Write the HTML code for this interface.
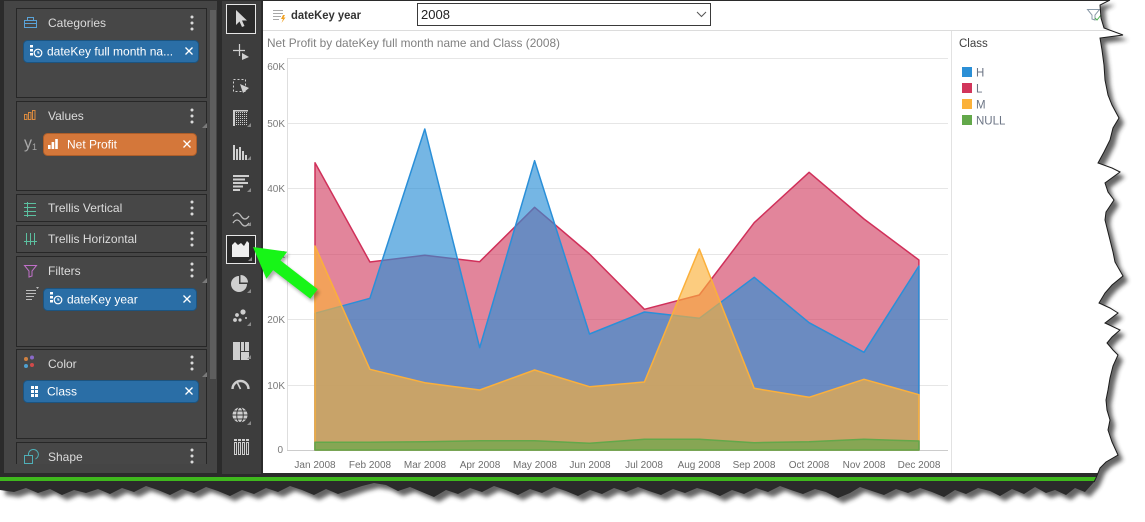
<!DOCTYPE html>
<html><head><meta charset="utf-8">
<style>
html,body{margin:0;padding:0;background:#fff;width:1145px;height:522px;overflow:hidden}
svg{display:block}
text{font-family:"Liberation Sans",Arial,sans-serif}
</style></head><body>
<svg width="1145" height="522" viewBox="0 0 1145 522" xmlns="http://www.w3.org/2000/svg">
<defs>
<clipPath id="paper"><path d="M0,0 L1110,0 L1100,5 L1101,18 L1104,28 L1123,35 L1100,38 L1102,50 L1104,65 L1105,80 L1108,95 L1112,105 L1119,118 L1113,128 L1110,140 L1104,152 L1098,163 L1112,168 L1120,172 L1105,183 L1108,192 L1114,200 L1106,212 L1105,220 L1108,232 L1110,240 L1113,252 L1115,262 L1123,276 L1112,285 L1105,293 L1099,303 L1110,308 L1118,313 L1105,323 L1120,330 L1112,337 L1107,343 L1113,350 L1118,355 L1113,366 L1110,378 L1108,390 L1106,400 L1107,410 L1110,420 L1108,430 L1112,442 L1118,455 L1106,462 L1100,468 L1096,478 L1094,482 L1085,492 L1075,488 L1066,495 L1055,490 L1046,493 L1035,487 L1024,494 L1012,489 L1000,496 L990,491 L978,488 L966,494 L955,490 L944,497 L932,492 L920,488 L908,493 L896,489 L884,495 L872,491 L860,487 L850,493 L838,498 L826,492 L815,489 L803,494 L791,490 L780,486 L768,492 L756,488 L744,494 L732,490 L720,496 L708,491 L697,488 L685,493 L673,489 L661,495 L649,491 L638,487 L626,492 L614,488 L602,494 L590,490 L578,496 L566,491 L554,487 L542,493 L530,489 L518,495 L506,490 L494,486 L482,492 L470,488 L458,494 L446,490 L434,497 L422,492 L410,487 L398,491 L386,485 L374,483 L362,486 L350,490 L338,494 L326,489 L314,495 L302,490 L290,486 L278,492 L266,488 L254,494 L242,490 L230,496 L218,491 L206,487 L194,493 L182,489 L170,495 L158,490 L146,486 L134,492 L122,488 L110,494 L98,489 L86,493 L74,490 L62,495 L50,489 L38,493 L26,488 L14,492 L0,490 Z"/></clipPath>
<filter id="sh" x="-5%" y="-5%" width="110%" height="110%"><feGaussianBlur stdDeviation="2.2"/></filter>
<filter id="ash" x="-20%" y="-20%" width="140%" height="140%"><feGaussianBlur stdDeviation="1.5"/></filter>
<pattern id="dots" width="2" height="2" patternUnits="userSpaceOnUse"><rect width="1" height="1" fill="#cfcfcf"/></pattern>
</defs>

<rect width="1145" height="522" fill="#fff"/>
<path transform="translate(5,5)" fill="#303030" opacity="0.75" filter="url(#sh)" d="M0,0 L1110,0 L1100,5 L1101,18 L1104,28 L1123,35 L1100,38 L1102,50 L1104,65 L1105,80 L1108,95 L1112,105 L1119,118 L1113,128 L1110,140 L1104,152 L1098,163 L1112,168 L1120,172 L1105,183 L1108,192 L1114,200 L1106,212 L1105,220 L1108,232 L1110,240 L1113,252 L1115,262 L1123,276 L1112,285 L1105,293 L1099,303 L1110,308 L1118,313 L1105,323 L1120,330 L1112,337 L1107,343 L1113,350 L1118,355 L1113,366 L1110,378 L1108,390 L1106,400 L1107,410 L1110,420 L1108,430 L1112,442 L1118,455 L1106,462 L1100,468 L1096,478 L1094,482 L1085,492 L1075,488 L1066,495 L1055,490 L1046,493 L1035,487 L1024,494 L1012,489 L1000,496 L990,491 L978,488 L966,494 L955,490 L944,497 L932,492 L920,488 L908,493 L896,489 L884,495 L872,491 L860,487 L850,493 L838,498 L826,492 L815,489 L803,494 L791,490 L780,486 L768,492 L756,488 L744,494 L732,490 L720,496 L708,491 L697,488 L685,493 L673,489 L661,495 L649,491 L638,487 L626,492 L614,488 L602,494 L590,490 L578,496 L566,491 L554,487 L542,493 L530,489 L518,495 L506,490 L494,486 L482,492 L470,488 L458,494 L446,490 L434,497 L422,492 L410,487 L398,491 L386,485 L374,483 L362,486 L350,490 L338,494 L326,489 L314,495 L302,490 L290,486 L278,492 L266,488 L254,494 L242,490 L230,496 L218,491 L206,487 L194,493 L182,489 L170,495 L158,490 L146,486 L134,492 L122,488 L110,494 L98,489 L86,493 L74,490 L62,495 L50,489 L38,493 L26,488 L14,492 L0,490 Z"/>

<g clip-path="url(#paper)">
<rect width="1145" height="522" fill="#2b2b2b"/>
<rect x="4" y="1" width="213" height="472" fill="#454545"/>
<rect x="210" y="10" width="6" height="369" fill="#5e5e5e"/>
<rect x="222" y="1" width="39" height="473" fill="#3d3d3d"/>
<rect x="263" y="1" width="882" height="472" fill="#fff"/>
<rect x="0" y="477" width="1145" height="4" fill="#3fb81d"/>

<g fill="#474747" stroke="#272727" stroke-width="1">
<rect x="16.5" y="8.5" width="190" height="89"/>
<rect x="16.5" y="101.5" width="190" height="89"/>
<rect x="16.5" y="194.5" width="190" height="27"/>
<rect x="16.5" y="225.5" width="190" height="27"/>
<rect x="16.5" y="256.5" width="190" height="90"/>
<rect x="16.5" y="349.5" width="190" height="89"/>
<rect x="16.5" y="442.5" width="190" height="26"/>
</g>
<rect x="4" y="464" width="213" height="9" fill="#454545"/>

<g font-size="12" fill="#dcdcdc">
<text x="48" y="27">Categories</text>
<text x="48" y="120">Values</text>
<text x="48" y="212">Trellis Vertical</text>
<text x="48" y="243">Trellis Horizontal</text>
<text x="48" y="275">Filters</text>
<text x="48" y="368">Color</text>
<text x="48" y="461">Shape</text>
</g>
<g fill="#dadada">
<circle cx="192" cy="17" r="1.5"/><circle cx="192" cy="23" r="1.5"/><circle cx="192" cy="29" r="1.5"/>
<circle cx="192" cy="110" r="1.5"/><circle cx="192" cy="116" r="1.5"/><circle cx="192" cy="122" r="1.5"/>
<circle cx="192" cy="202" r="1.5"/><circle cx="192" cy="208" r="1.5"/><circle cx="192" cy="214" r="1.5"/>
<circle cx="192" cy="233" r="1.5"/><circle cx="192" cy="239" r="1.5"/><circle cx="192" cy="245" r="1.5"/>
<circle cx="192" cy="264" r="1.5"/><circle cx="192" cy="270" r="1.5"/><circle cx="192" cy="276" r="1.5"/>
<circle cx="192" cy="357" r="1.5"/><circle cx="192" cy="363" r="1.5"/><circle cx="192" cy="369" r="1.5"/>
<circle cx="192" cy="450" r="1.5"/><circle cx="192" cy="456" r="1.5"/><circle cx="192" cy="462" r="1.5"/>
</g>
<g fill="#7a7a7a">
<path d="M207,123 L207,128 L202,128 Z"/>
<path d="M207,278 L207,283 L202,283 Z"/>
<path d="M207,372 L207,377 L202,377 Z"/>
</g>

<g fill="none" stroke="#5aa3d8" stroke-width="1">
<rect x="24.5" y="20.5" width="12" height="7"/><path d="M27.5,20.5 V17.5 H33.5 V20.5 M24.5,23.5 H36.5"/>
</g>
<g fill="none" stroke="#d98a3f" stroke-width="1">
<rect x="24.5" y="114.5" width="2.5" height="5"/><rect x="28.5" y="112.5" width="2.5" height="7"/><rect x="32.5" y="110.5" width="2.5" height="9"/>
</g>
<text x="24" y="148" font-size="16" fill="#a8a8a8">y</text><text x="32" y="150" font-size="9" fill="#a8a8a8">1</text>
<g stroke="#5cc0a0" stroke-width="1" fill="none">
<path d="M24,203.5 H36 M24,207.5 H36 M24,211.5 H36 M24,215.5 H36 M27.5,202 V217"/>
<path d="M26.5,233 V245 M30.5,233 V245 M34.5,233 V245 M24,241.5 H37"/>
</g>
<path d="M24.5,265.5 H36.5 L32,271 V276 L29,277 V271 Z" fill="none" stroke="#c070c8" stroke-width="1"/>
<circle cx="26" cy="359" r="2" fill="#d08040"/><circle cx="32" cy="357.5" r="2" fill="#8a6ac8"/><circle cx="26" cy="366" r="2" fill="#4fa0d0"/><circle cx="32" cy="365" r="2" fill="#d04a4a"/>
<g fill="none" stroke="#4fb0b8" stroke-width="1"><rect x="24.5" y="455.5" width="8" height="8"/><path d="M28.5,455.5 A5,5 0 1,1 35.5,459"/></g>
<g stroke="#bdbdbd" stroke-width="1"><path d="M26,290.5 H36 M26,293.5 H36 M26,296.5 H34 M26,299.5 H32"/></g><path d="M36,287 L39,287 L37.5,289 Z" fill="#bdbdbd"/>

<rect x="23.5" y="40.5" width="175" height="22" rx="4" fill="#2a6ea6" stroke="#1c5480"/>
<rect x="43.5" y="133.5" width="153" height="22" rx="4" fill="#d4773a" stroke="#ad5e2a"/>
<rect x="43.5" y="288.5" width="153" height="22" rx="4" fill="#2a6ea6" stroke="#1c5480"/>
<rect x="23.5" y="380.5" width="175" height="22" rx="4" fill="#2a6ea6" stroke="#1c5480"/>
<g font-size="12" fill="#ffffff">
<text x="47" y="55.5">dateKey full month na...</text>
<text x="67" y="148.5">Net Profit</text>
<text x="67" y="303.5">dateKey year</text>
<text x="47" y="395.5">Class</text>
</g>
<g stroke="#fff" stroke-width="1.3">
<path d="M185.5,47.5 L192.5,54.5 M192.5,47.5 L185.5,54.5"/>
<path d="M183.5,140.5 L190.5,147.5 M190.5,140.5 L183.5,147.5"/>
<path d="M183.5,295.5 L190.5,302.5 M190.5,295.5 L183.5,302.5"/>
<path d="M185.5,387.5 L192.5,394.5 M192.5,387.5 L185.5,394.5"/>
</g>
<g fill="#fff"><rect x="30" y="45" width="3" height="2.5"/><rect x="30" y="49" width="3" height="2.5"/><rect x="30" y="53" width="3" height="2.5"/></g>
<circle cx="38" cy="53" r="3.8" fill="none" stroke="#fff" stroke-width="1.2"/><path d="M38,51 V53 H39.5" stroke="#fff" fill="none"/>
<g fill="#fff"><rect x="50" y="292" width="3" height="2.5"/><rect x="50" y="296" width="3" height="2.5"/><rect x="50" y="300" width="3" height="2.5"/></g>
<circle cx="58" cy="300" r="3.8" fill="none" stroke="#fff" stroke-width="1.2"/><path d="M58,298 V300 H59.5" stroke="#fff" fill="none"/>
<g fill="#fff"><rect x="48" y="145" width="2.6" height="4"/><rect x="51.6" y="142" width="2.6" height="7"/><rect x="55.2" y="139" width="2.6" height="10"/></g>
<g fill="#fff"><rect x="31" y="386" width="3" height="3"/><rect x="35" y="386" width="3" height="3"/><rect x="31" y="390" width="3" height="3"/><rect x="35" y="390" width="3" height="3"/><rect x="31" y="394" width="3" height="3"/><rect x="35" y="394" width="3" height="3"/></g>

<rect x="226.5" y="4.5" width="29" height="29" fill="#2a2a2a" stroke="#e6e6e6"/>
<path d="M236,10 L236,25 L239.5,21.5 L242,27 L244.5,26 L242,20.5 L247,20.5 Z" fill="#d6d6d6"/>
<path d="M233,50.5 H245 M239.5,44 V56" stroke="#d0d0d0" stroke-width="1.2"/>
<path d="M242,53 L249,57 L242,60 Z" fill="#d0d0d0"/>
<rect x="233.5" y="79.5" width="12" height="12" fill="none" stroke="#d0d0d0" stroke-dasharray="2,2"/>
<path d="M240,84 L249,88 L243,93 Z" fill="#d0d0d0"/>
<rect x="233" y="110" width="15" height="16" fill="url(#dots)"/><rect x="233" y="110" width="15" height="1.5" fill="#cfcfcf"/><rect x="233" y="110" width="2" height="16" fill="#cfcfcf"/>
<g fill="#cfcfcf"><rect x="233" y="145" width="2" height="15"/><rect x="236" y="149" width="2" height="11"/><rect x="239" y="147" width="2" height="13"/><rect x="242" y="151" width="2" height="9"/><rect x="245" y="155" width="2" height="5"/></g>
<g fill="#cfcfcf"><rect x="233" y="175" width="16" height="2"/><rect x="233" y="178.5" width="12" height="2"/><rect x="233" y="182" width="15" height="2"/><rect x="233" y="185.5" width="10" height="2"/><rect x="233" y="189" width="7" height="2"/></g>
<path d="M233,216 q4,-6 8,0 t8,0 M233,223 q4,-6 8,0 t8,0" fill="none" stroke="#bdbdbd" stroke-width="1.3"/>
<rect x="226.5" y="235.5" width="29" height="28" fill="#2a2a2a" stroke="#e6e6e6"/>
<path d="M232,245 L235,242 L238,245 L241,243 L244,246 L247,241 L249,243 L249,257 L232,257 Z" fill="#eeeeee"/>
<path d="M239,284 L239,276 A8,8 0 1,0 247,284 Z" fill="#cfcfcf"/><path d="M240.5,282.5 L240.5,275 A7.5,7.5 0 0,1 248,282.5 Z" fill="#cfcfcf"/>
<g fill="#cfcfcf"><circle cx="243" cy="312" r="2.6"/><circle cx="237" cy="315" r="1.9"/><circle cx="235" cy="320" r="1.9"/><circle cx="240" cy="320" r="1.6"/><circle cx="246" cy="318" r="1"/></g>
<g fill="#cfcfcf"><rect x="233" y="342" width="7" height="18"/><rect x="241" y="342" width="3" height="9"/><rect x="245" y="342" width="4" height="9"/><rect x="241" y="352" width="8" height="8"/></g>
<path d="M232.5,389 A8,8 0 0,1 248.5,389" fill="none" stroke="#cfcfcf" stroke-width="2.4"/><path d="M240.5,389 L237,382" stroke="#cfcfcf" stroke-width="1.6"/>
<circle cx="240" cy="415" r="7.5" fill="#cfcfcf"/><g stroke="#3d3d3d" fill="none" stroke-width="1"><ellipse cx="240" cy="415" rx="3.3" ry="7.5"/><path d="M232.5,415 H247.5 M233.5,411 H246.5 M233.5,419 H246.5"/></g>
<g fill="none" stroke="#cfcfcf" stroke-width="1"><rect x="234.5" y="442.5" width="2" height="12"/><rect x="238.5" y="442.5" width="2" height="12"/><rect x="242.5" y="442.5" width="2" height="12"/><rect x="246.5" y="442.5" width="2" height="12"/></g>
<g fill="#cfcfcf"><rect x="234" y="439" width="3" height="2"/><rect x="238" y="439" width="3" height="2"/><rect x="242" y="439" width="3" height="2"/><rect x="246" y="439" width="3" height="2"/></g>
<g fill="#8a8a8a">
<path d="M251,123 L251,127 L247,127 Z"/><path d="M251,156 L251,160 L247,160 Z"/><path d="M251,188 L251,192 L247,192 Z"/><path d="M251,222 L251,226 L247,226 Z"/><path d="M252,257 L252,261 L248,261 Z"/><path d="M251,289 L251,293 L247,293 Z"/><path d="M251,322 L251,326 L247,326 Z"/><path d="M251,355 L251,359 L247,359 Z"/><path d="M251,421 L251,425 L247,425 Z"/>
</g>

<g stroke="#a8a8a8" stroke-width="1"><path d="M273,10.5 H283 M273,13.5 H283 M273,16.5 H281 M273,19.5 H279"/></g>
<path d="M283,15 L281,19 L283,19 L281.5,23 L285.5,17.5 L283.5,17.5 L285,15 Z" fill="#f0a020"/>
<text x="291" y="19" font-size="12" font-weight="bold" fill="#333" textLength="70" lengthAdjust="spacingAndGlyphs">dateKey year</text>
<rect x="417.5" y="3.5" width="293" height="22" fill="#fff" stroke="#3a3a3a"/>
<text x="421" y="19" font-size="13" fill="#222">2008</text>
<path d="M697,12 L701.5,16.5 L706,12" fill="none" stroke="#555" stroke-width="1"/>
<path d="M263,30.5 H1145" stroke="#dcdcdc"/>
<path d="M1087.5,9.5 H1099.5 L1095,15 V20 L1092,19 V15 Z" fill="none" stroke="#8a9aa8" stroke-width="1"/>
<path d="M1095,18 L1097,20 L1101,15" fill="none" stroke="#4caf50" stroke-width="1"/>

<text x="267" y="47" font-size="12" fill="#808080" textLength="293" lengthAdjust="spacingAndGlyphs">Net Profit by dateKey full month name and Class (2008)</text>

<path d="M951.5,31 V473" stroke="#e2e2e2"/>

<g stroke="#e6e6e6" stroke-width="1">
<path d="M287,58.5 H948 M287,123.5 H948 M287,188.5 H948 M287,254.5 H948 M287,319.5 H948 M287,385.5 H948"/>
</g>
<path d="M287.5,58 V450" stroke="#dedede"/>
<path d="M287,450.5 H948" stroke="#cccccc"/>

<g font-size="10" fill="#7a7a7a" text-anchor="end">
<text x="285" y="70">60K</text>
<text x="285" y="127">50K</text>
<text x="285" y="192">40K</text>
<text x="285" y="258">30K</text>
<text x="285" y="323">20K</text>
<text x="285" y="389">10K</text>
<text x="283" y="453">0</text>
</g>
<g font-size="10" fill="#6e6e6e" text-anchor="middle">
<text x="315" y="468">Jan 2008</text>
<text x="370" y="468">Feb 2008</text>
<text x="425" y="468">Mar 2008</text>
<text x="480" y="468">Apr 2008</text>
<text x="535" y="468">May 2008</text>
<text x="590" y="468">Jun 2008</text>
<text x="644" y="468">Jul 2008</text>
<text x="699" y="468">Aug 2008</text>
<text x="754" y="468">Sep 2008</text>
<text x="809" y="468">Oct 2008</text>
<text x="864" y="468">Nov 2008</text>
<text x="919" y="468">Dec 2008</text>
</g>

<g stroke-width="1.5" stroke-linejoin="round">
<path d="M315,450 L315,162.7 L369.9,262 L424.8,255.3 L479.7,261.7 L534.6,207.3 L589.5,254 L644.4,309.3 L699.3,295 L754.2,222.7 L809.1,172.3 L864,219 L918.9,260 L918.9,450 Z" fill="#d13a5e" fill-opacity="0.62" stroke="#d0305a"/>
<path d="M315,450 L315,313.3 L369.9,298.3 L424.8,129 L479.7,347.7 L534.6,160.7 L589.5,334 L644.4,312 L699.3,318.3 L754.2,277.3 L809.1,322.7 L864,352.3 L918.9,266 L918.9,450 Z" fill="#2b8fd6" fill-opacity="0.65" stroke="#2a8fd8"/>
<path d="M315,450 L315,246 L369.9,369.3 L424.8,382.7 L479.7,390 L534.6,370 L589.5,386.7 L644.4,382 L699.3,249 L754.2,388.3 L809.1,397.3 L864,379.3 L918.9,394.7 L918.9,450 Z" fill="#fbb13a" fill-opacity="0.65" stroke="#fbb03b"/>
<path d="M315,450 L315,442.3 L369.9,442.3 L424.8,441.7 L479.7,440.7 L534.6,440.7 L589.5,443.3 L644.4,439.3 L699.3,439.3 L754.2,442.7 L809.1,441.7 L864,439.3 L918.9,441 L918.9,450 Z" fill="#63a84a" fill-opacity="0.65" stroke="#63a84a"/>
</g>

<text x="959" y="47" font-size="11.5" fill="#404040">Class</text>
<rect x="962" y="67" width="10" height="10" fill="#2b8fd6"/>
<rect x="962" y="83" width="10" height="10" fill="#d1355b"/>
<rect x="962" y="99" width="10" height="10" fill="#fbb13a"/>
<rect x="962" y="115" width="10" height="10" fill="#63a84a"/>
<g font-size="11.5" fill="#6c7585">
<text x="976" y="76.5">H</text>
<text x="976" y="92.5">L</text>
<text x="976" y="108.5">M</text>
<text x="976" y="124.5">NULL</text>
</g>

<path d="M253,247 L287.2,251.8 L280.5,260.5 L317.7,289.2 L310.3,298.8 L273.1,270.1 L266.4,278.8 Z" fill="#1a1a1a" opacity="0.35" transform="translate(2,3)" filter="url(#ash)"/>
<path d="M253,247 L287.2,251.8 L280.5,260.5 L317.7,289.2 L310.3,298.8 L273.1,270.1 L266.4,278.8 Z" fill="#17f517"/>
</g>

<path d="M1110,0 L1100,5 L1101,18 L1104,28 L1123,35 L1100,38 L1102,50 L1104,65 L1105,80 L1108,95 L1112,105 L1119,118 L1113,128 L1110,140 L1104,152 L1098,163 L1112,168 L1120,172 L1105,183 L1108,192 L1114,200 L1106,212 L1105,220 L1108,232 L1110,240 L1113,252 L1115,262 L1123,276 L1112,285 L1105,293 L1099,303 L1110,308 L1118,313 L1105,323 L1120,330 L1112,337 L1107,343 L1113,350 L1118,355 L1113,366 L1110,378 L1108,390 L1106,400 L1107,410 L1110,420 L1108,430 L1112,442 L1118,455 L1106,462 L1100,468 L1096,478 L1094,482" fill="none" stroke="#1b1b1b" stroke-width="1"/>
</svg>
</body></html>
